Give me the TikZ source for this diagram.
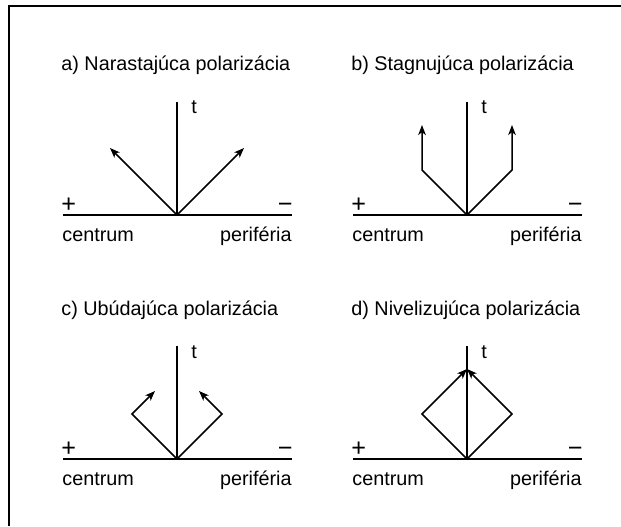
\documentclass[tikz,border=0pt]{standalone}
\usepackage{fontspec}
\setmainfont{Liberation Sans}
\usetikzlibrary{arrows.meta}

\begin{document}
\begin{tikzpicture}[x=0.5pt,y=0.5pt,
  axline/.style={line width=0.8pt},
  arr/.style={line width=0.75pt,-{Stealth[length=5pt,width=3.8pt,inset=1.4pt]}},
  lbl/.style={inner sep=0pt,font=\fontsize{9.9}{12}\selectfont},
  sgn/.style={inner sep=0pt,font=\fontsize{12.6}{14}\selectfont}]
\useasboundingbox (0,0) rectangle (621,526);
\coordinate (fbot) at (9,0);
\coordinate (fcorner) at (9,520);
\coordinate (fright) at (621,520);
\draw[line width=1pt] (fbot) -- (fcorner) -- (fright);

\begin{scope}[shift={(177,311)}]
\coordinate (a0) at (0,0);
\coordinate (aw) at (-114,0);
\coordinate (ae) at (115,0);
\coordinate (an) at (0,113);
\node[lbl,anchor=base west] (atitle) at (-116,144) {a) Narastajúca polarizácia};
\node[lbl,anchor=base west] (at) at (14,101) {t};
\node[sgn,anchor=base west] (aplus) at (-116,3) {+};
\node[sgn,anchor=base east] (aminus) at (116,3) {−};
\node[lbl,anchor=base west] (acentrum) at (-115,-26) {centrum};
\node[lbl,anchor=base east] (aperif) at (115,-26) {periféria};
\draw[axline] (aw) -- (ae);
\draw[axline] (a0) -- (an);
\coordinate (al) at (-67,67);
\coordinate (ar) at (67,67);
\draw[arr] (a0) -- (al);
\draw[arr] (a0) -- (ar);
\end{scope}

\begin{scope}[shift={(467,311)}]
\coordinate (b0) at (0,0);
\coordinate (bw) at (-114,0);
\coordinate (be) at (115,0);
\coordinate (bn) at (0,113);
\node[lbl,anchor=base west] (btitle) at (-116,144) {b) Stagnujúca polarizácia};
\node[lbl,anchor=base west] (bt) at (14,101) {t};
\node[sgn,anchor=base west] (bplus) at (-116,3) {+};
\node[sgn,anchor=base east] (bminus) at (116,3) {−};
\node[lbl,anchor=base west] (bcentrum) at (-115,-26) {centrum};
\node[lbl,anchor=base east] (bperif) at (115,-26) {periféria};
\draw[axline] (bw) -- (be);
\draw[axline] (b0) -- (bn);
\coordinate (bl) at (-45,45);
\coordinate (blt) at (-45,90);
\coordinate (br) at (45,45);
\coordinate (brt) at (45,90);
\draw[arr] (b0) -- (bl) -- (blt);
\draw[arr] (b0) -- (br) -- (brt);
\end{scope}

\begin{scope}[shift={(177,67)}]
\coordinate (c0) at (0,0);
\coordinate (cw) at (-114,0);
\coordinate (ce) at (115,0);
\coordinate (cn) at (0,113);
\node[lbl,anchor=base west] (ctitle) at (-116,144) {c) Ubúdajúca polarizácia};
\node[lbl,anchor=base west] (ct) at (14,101) {t};
\node[sgn,anchor=base west] (cplus) at (-116,3) {+};
\node[sgn,anchor=base east] (cminus) at (116,3) {−};
\node[lbl,anchor=base west] (ccentrum) at (-115,-26) {centrum};
\node[lbl,anchor=base east] (cperif) at (115,-26) {periféria};
\draw[axline] (cw) -- (ce);
\draw[axline] (c0) -- (cn);
\coordinate (cl) at (-45,45);
\coordinate (clt) at (-22,68);
\coordinate (cr) at (45,45);
\coordinate (crt) at (22,68);
\draw[arr] (c0) -- (cl) -- (clt);
\draw[arr] (c0) -- (cr) -- (crt);
\end{scope}

\begin{scope}[shift={(467,67)}]
\coordinate (d0) at (0,0);
\coordinate (dw) at (-114,0);
\coordinate (de) at (115,0);
\coordinate (dn) at (0,113);
\node[lbl,anchor=base west] (dtitle) at (-116,144) {d) Nivelizujúca polarizácia};
\node[lbl,anchor=base west] (dt) at (14,101) {t};
\node[sgn,anchor=base west] (dplus) at (-116,3) {+};
\node[sgn,anchor=base east] (dminus) at (116,3) {−};
\node[lbl,anchor=base west] (dcentrum) at (-115,-26) {centrum};
\node[lbl,anchor=base east] (dperif) at (115,-26) {periféria};
\draw[axline] (dw) -- (de);
\draw[axline] (d0) -- (dn);
\coordinate (dl) at (-45,45);
\coordinate (dr) at (45,45);
\coordinate (dtop) at (0,90);
\draw[arr] (d0) -- (dl) -- (dtop);
\draw[arr] (d0) -- (dr) -- (dtop);
\end{scope}
\end{tikzpicture}
\end{document}
